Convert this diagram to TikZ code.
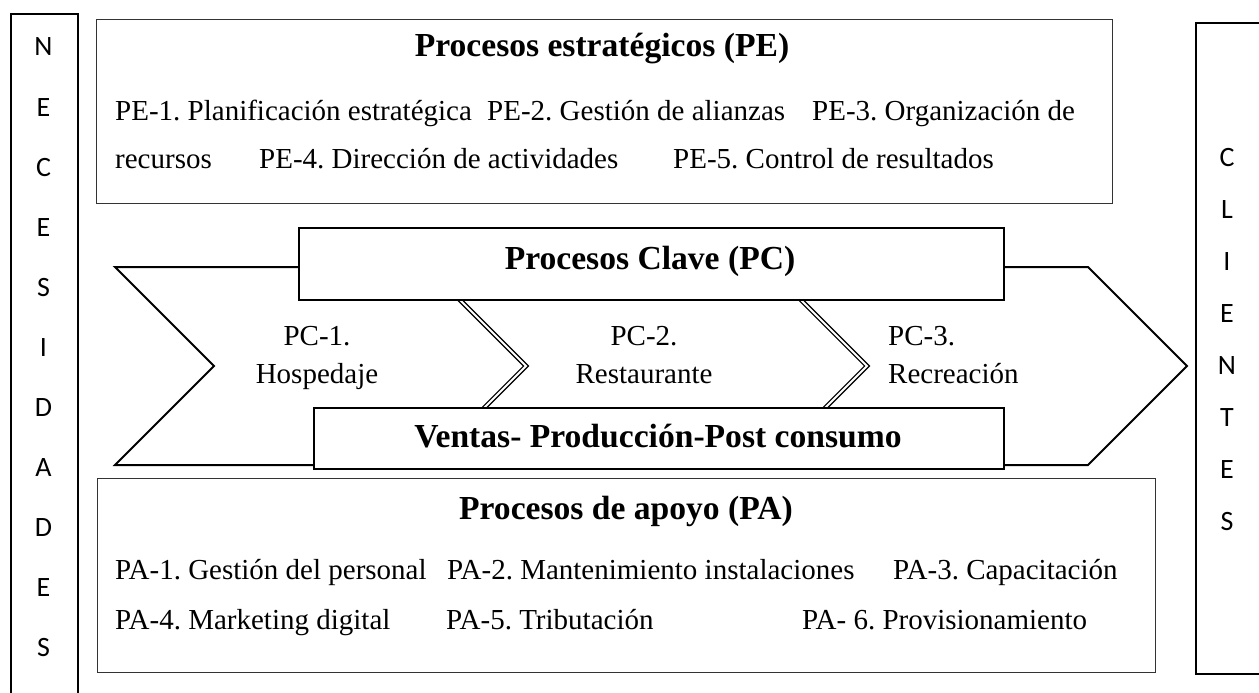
\documentclass[tikz,border=0pt]{standalone}
\usepackage{fontspec}
\setmainfont{Liberation Serif}
\newfontfamily\calib{Carlito}
\tikzset{
  thinbox/.style={draw=black!80, line width=1.4pt, fill=white, inner sep=0pt, anchor=north west},
  thickbox/.style={draw=black, line width=2pt, fill=white, inner sep=0pt, anchor=north west},
  txt/.style={font=\fontsize{29}{34}\selectfont, inner sep=0pt, anchor=base west},
  ctxt/.style={font=\fontsize{29}{34}\selectfont, inner sep=0pt, anchor=base},
  ttl/.style={font=\fontsize{33.6}{40}\selectfont\bfseries, inner sep=0pt, anchor=base},
  letter/.style={font=\calib\fontsize{28}{34}\selectfont, inner sep=0pt, anchor=base},
  sep/.style={double, line width=1.3pt, double distance=2pt, line join=miter},
  chev/.style={draw=black, line width=2pt, fill=white, line join=miter},
}
\begin{document}
\frenchspacing
\begin{tikzpicture}[x=1pt, y=-1pt]
\useasboundingbox (0,0) rectangle (1259,693);

% side boxes
\node[thickbox, minimum width=67pt, minimum height=700pt] (nec) at (10,13) {};
\node[thickbox, minimum width=80pt, minimum height=651pt] (cli) at (1195,22) {};
\foreach \l [count=\i from 0] in {N,E,C,E,S,I,D,A,D,E,S}
  \node[letter] (n\i) at (43.5, 56+60*\i) {\l};
\foreach \l [count=\i from 0] in {C,L,I,E,N,T,E,S}
  \node[letter] (c\i) at (1227, 166+52*\i) {\l};

% strategic processes
\node[thinbox, minimum width=1016pt, minimum height=184pt] (pe) at (96,19) {};
\node[ttl] (pet) at (602,57) {Procesos estratégicos (PE)};
\node[txt] (pe1) at (115,121) {PE-1. Planificación estratégica};
\node[txt] (pe2) at (487,121) {PE-2. Gestión de alianzas};
\node[txt] (pe3) at (812,121) {PE-3. Organización de};
\node[txt] (pe3b) at (115,168) {recursos};
\node[txt] (pe4) at (259,168) {PE-4. Dirección de actividades};
\node[txt] (pe5) at (673,168) {PE-5. Control de resultados};

% key processes chevron
\draw[chev] (115,267) -- (1088,267) -- (1187,366) -- (1088,465) -- (115,465) -- (214,366) -- cycle;
\draw[sep] (427,267) -- (526,366) -- (427,465);
\draw[sep] (768,267) -- (867,366) -- (768,465);
\node[thickbox, minimum width=705pt, minimum height=72pt] (pc) at (298,227) {};
\node[ttl] (pct) at (650,269) {Procesos Clave (PC)};
\node[thickbox, minimum width=690pt, minimum height=61pt] (vpp) at (313,407) {};
\node[ttl] (vppt) at (658,447) {Ventas- Producción-Post consumo};
\node[ctxt] (pc1a) at (317,345) {PC-1.};
\node[ctxt] (pc1b) at (317,383) {Hospedaje};
\node[ctxt] (pc2a) at (644,345) {PC-2.};
\node[ctxt] (pc2b) at (644,383) {Restaurante};
\node[txt] (pc3a) at (888,345) {PC-3.};
\node[txt] (pc3b) at (888,383) {Recreación};

% support processes
\node[thinbox, minimum width=1058pt, minimum height=194pt] (pa) at (97,478) {};
\node[ttl] (pat) at (626,519) {Procesos de apoyo (PA)};
\node[txt] (pa1) at (115,579) {PA-1. Gestión del personal};
\node[txt] (pa2) at (447,579) {PA-2. Mantenimiento instalaciones};
\node[txt] (pa3) at (893,579) {PA-3. Capacitación};
\node[txt] (pa4) at (115,629) {PA-4. Marketing digital};
\node[txt] (pa5) at (446,629) {PA-5. Tributación};
\node[txt] (pa6) at (802,629) {PA- 6. Provisionamiento};
\end{tikzpicture}
\end{document}
